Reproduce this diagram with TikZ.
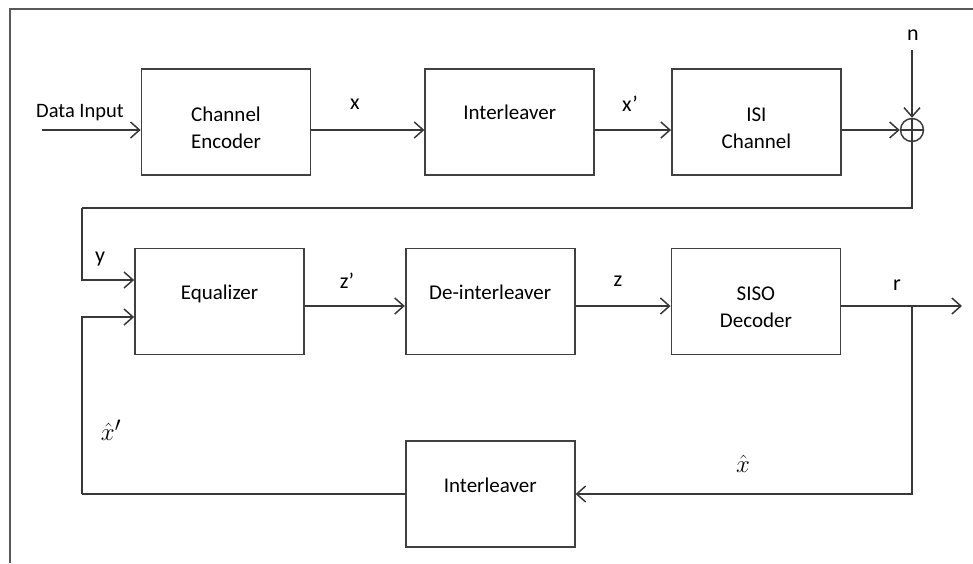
\documentclass[tikz,border=0pt]{standalone}
\usepackage{amsmath}
\usepackage{fontspec}
\setmainfont{Carlito}
\usepackage{tikz}
\usetikzlibrary{arrows.meta,positioning}

\begin{document}
\begin{tikzpicture}[
    x=1pt, y=-1pt,
    line width=1.5pt, draw=black!78,
    blk/.style={draw=black!75, line width=1.7pt, align=center,
                font=\fontsize{21}{27}\selectfont,
                minimum width=169pt, minimum height=106pt, inner sep=0pt},
    onel/.style={blk, text depth=19pt},
    twol/.style={blk, text height=53pt},
    sumc/.style={draw=black!75, circle, line width=1.5pt, minimum size=23pt,
                 inner sep=0pt},
    lbl/.style={font=\fontsize{22}{26}\selectfont},
    mlbl/.style={font=\fontsize{32}{36}\selectfont},
    arr/.style={-{Straight Barb[length=9pt,width=16pt,line width=1.5pt]}, draw=black!78}
  ]
  \useasboundingbox (0,0) rectangle (973,563);
  \draw[draw=black!65, line width=1.6pt] (10,563) |- (973,9);

  % top row
  \node[twol] (enc) at (226,122) {Channel\\Encoder};
  \node[onel, right=113pt of enc] (intl) {Interleaver};
  \node[twol, right=76pt of intl] (isi) {ISI\\Channel};
  \node[sumc] (sum) at (912,130) {};
  \draw (sum.north) -- (sum.south);
  \draw (sum.west) -- (sum.east);

  % bottom rows
  \node[onel] (eq) at (219.5,301.5) {Equalizer};
  \node[onel, right=100pt of eq] (deint) {De-interleaver};
  \node[twol, right=95pt of deint] (siso) {SISO\\Decoder};
  \node[onel, below=85pt of deint] (intl2) {Interleaver};

  \coordinate (in) at (42,130);
  \coordinate (noise) at (912,50);
  \coordinate (fbtop) at (82,208);
  \coordinate (fbbot) at (82,494);
  \coordinate (br) at (912,306);
  \coordinate (out) at (962,306);

  % labels
  \node[font=\fontsize{20.5}{24}\selectfont] (datain) at (80,113) {Data Input};
  \node[lbl] (nlab) at (913,35) {n};
  \node[lbl] (xlab) at (355,104) {x};
  \node[lbl] (xplab) at (630,104) {x’};
  \node[lbl] (ylab) at (100,259) {y};
  \node[lbl] (zplab) at (347,281) {z’};
  \node[lbl] (zlab) at (618,281) {z};
  \node[lbl] (rlab) at (897,285) {r};
  \node[mlbl] (xhlab) at (743,464) {$\hat{x}$};
  \node[mlbl] (xhplab) at (111,430) {$\hat{x}'$};

  % connectors
  \draw[arr] (in) -- (enc.west |- in);
  \draw[arr] (enc.east |- in) -- (intl.west |- in);
  \draw[arr] (intl.east |- in) -- (isi.west |- in);
  \draw[arr] (isi.east |- sum) -- (sum);
  \draw[arr] (noise) -- (sum);
  \draw (sum.south) |- (fbtop);
  \draw[arr] (fbtop) |- ([yshift=21.5pt]eq.west);
  \draw[arr] (eq.east |- br) -- (deint.west |- br);
  \draw[arr] (deint.east |- br) -- (siso.west |- br);
  \draw[arr] (siso.east |- br) -- (out);
  \draw[arr] (br) |- (intl2.east |- fbbot);
  \draw (intl2.west |- fbbot) -- (fbbot);
  \draw[arr] (fbbot) |- ([yshift=-15.5pt]eq.west);
\end{tikzpicture}
\end{document}
